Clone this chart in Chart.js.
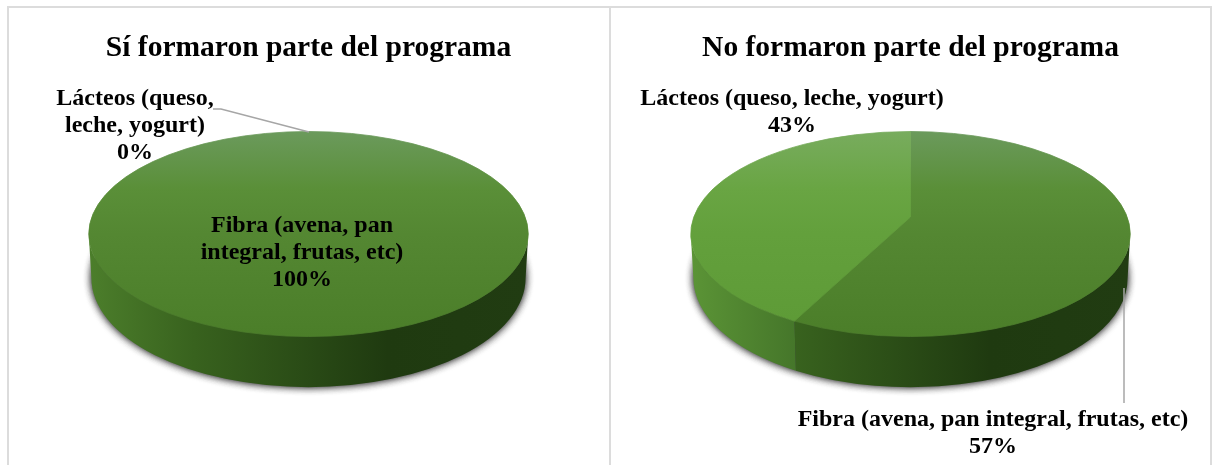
<!DOCTYPE html>
<html lang="es">
<head>
<meta charset="utf-8">
<title>Programa</title>
<script src="https://cdn.jsdelivr.net/npm/chart.js@4"></script>
<style>
html, body { margin: 0; padding: 0; background: #fff; overflow: hidden; }
body { width: 1212px; height: 465px; position: relative; }
.panel { position: absolute; top: 6px; height: 459px; border-top: 2px solid #dcdcdc; border-left: 2px solid #dcdcdc; box-sizing: border-box; }
#p1 { left: 7px; width: 603px; }
#p2 { left: 609px; width: 603px; border-right: 2px solid #dcdcdc; }
canvas { position: absolute; top: 0; }
#chartSi { left: 8px; }
#chartNo { left: 610px; }
</style>
</head>
<body>
<div class="panel" id="p1"></div>
<div class="panel" id="p2"></div>
<canvas id="chartSi" width="601" height="465"></canvas>
<canvas id="chartNo" width="601" height="465"></canvas>
<script>
const categories = ['Fibra (avena, pan integral, frutas, etc)', 'Lácteos (queso, leche, yogurt)'];
const siValues = [100, 0];
const noValues = [57, 43];
const titles = ['Sí formaron parte del programa', 'No formaron parte del programa'];

const topStops = [
  ['#6b9a5c', '#5a8f38', '#548732', '#4b7e29'],
  ['#78ac5e', '#69a543', '#63a03c', '#5d9a36']
];
const sideStops = [
  ['#4c7e2b', '#38621e', '#1f3a10', '#213c12'],
  ['#5b9436', '#45762a', '#38621e', '#213c12']
];

const SERIF = '"Liberation Serif", serif';
const TILT = 0.4665;
const PERSPECTIVE = -0.24;
const APEX = -0.166;

// bends the slice angles the way the 3D view does
function projectAngle(t) {
  const u = Math.cos(t), v = Math.sin(t);
  const d = 1 + PERSPECTIVE * v;
  return Math.atan2((v + PERSPECTIVE) / d, u * Math.sqrt(1 - PERSPECTIVE * PERSPECTIVE) / d);
}

function angleRange(arc) {
  const sweep = arc.endAngle - arc.startAngle;
  let a = projectAngle(arc.startAngle);
  let b = projectAngle(arc.endAngle);
  if (sweep >= Math.PI * 2 - 0.0001) return [-Math.PI / 2, Math.PI * 1.5];
  if (a > 0 && arc.startAngle < 0) a -= Math.PI * 2;
  while (b < a) b += Math.PI * 2;
  return [a, b];
}

const pie3d = {
  id: 'pie3d',
  beforeDatasetDraw(chart, args) {
    const ctx = chart.ctx;
    const arcs = args.meta.data;
    const cx = arcs[0].x, cy = arcs[0].y, rx = arcs[0].outerRadius, ry = rx * TILT;
    const botY = cy + 44, botRx = rx * 0.988, botRy = ry * 1.065;
    const apexY = cy + APEX * ry;

    // soft shadow behind the wall
    ctx.save();
    ctx.shadowColor = 'rgba(30,30,30,0.9)';
    ctx.shadowBlur = 8;
    ctx.fillStyle = '#333';
    for (let n = 0; n < 2; n++) {
      ctx.beginPath();
      ctx.ellipse(cx, botY, botRx - 1, botRy - 1, 0, 0, Math.PI * 2);
      ctx.fill();
    }
    ctx.restore();

    arcs.forEach((arc, i) => {
      if (arc.endAngle - arc.startAngle <= 0) return;
      const [a, b] = angleRange(arc);

      // wall
      const lo = Math.max(a, 0), hi = Math.min(b, Math.PI);
      if (hi > lo) {
        const g = ctx.createLinearGradient(cx - rx, 0, cx + rx, 0);
        const s = sideStops[i];
        g.addColorStop(0, s[0]);
        g.addColorStop(0.24, s[1]);
        g.addColorStop(0.68, s[2]);
        g.addColorStop(1, s[3]);
        ctx.fillStyle = g;
        ctx.beginPath();
        ctx.ellipse(cx, cy, rx, ry, 0, lo, hi);
        ctx.ellipse(cx, botY, botRx, botRy, 0, hi, lo, true);
        ctx.closePath();
        ctx.fill();
      }
    });

    arcs.forEach((arc, i) => {
      if (arc.endAngle - arc.startAngle <= 0) return;
      const [a, b] = angleRange(arc);

      // top face
      const g2 = ctx.createLinearGradient(0, cy - ry, 0, cy + ry);
      const t = topStops[i];
      g2.addColorStop(0, t[0]);
      g2.addColorStop(0.28, t[1]);
      g2.addColorStop(0.5, t[2]);
      g2.addColorStop(1, t[3]);
      ctx.fillStyle = g2;
      ctx.strokeStyle = g2;
      ctx.lineWidth = 0.8;
      ctx.beginPath();
      if (b - a < Math.PI * 2 - 0.0001) ctx.moveTo(cx, apexY);
      ctx.ellipse(cx, cy, rx, ry, 0, a, b);
      ctx.closePath();
      ctx.fill();
      ctx.stroke();
    });
    return false;
  },
  afterDatasetsDraw(chart, args, opts) {
    const ctx = chart.ctx;
    ctx.save();
    ctx.strokeStyle = '#a6a6a6';
    ctx.lineWidth = 1.5;
    (opts.leaders || []).forEach(pts => {
      ctx.beginPath();
      pts.forEach((p, i) => i ? ctx.lineTo(p[0], p[1]) : ctx.moveTo(p[0], p[1]));
      ctx.stroke();
    });
    ctx.fillStyle = '#000';
    ctx.font = 'bold ' + opts.labelSize + 'px ' + SERIF;
    ctx.textAlign = 'center';
    ctx.textBaseline = 'alphabetic';
    (opts.labels || []).forEach(l => {
      l.lines.forEach((txt, i) => ctx.fillText(txt, l.x, l.y + i * 27));
    });
    ctx.restore();
  }
};

function makePie(id, title, values, labels, leaders) {
  return new Chart(document.getElementById(id).getContext('2d'), {
    type: 'pie',
    data: {
      labels: categories,
      datasets: [{ data: values, radius: 219.75, borderWidth: 0 }]
    },
    options: {
      responsive: false,
      animation: false,
      layout: { padding: { bottom: 73.4 } },
      plugins: {
        legend: { display: false },
        tooltip: { enabled: false },
        title: {
          display: true,
          text: title,
          color: '#000',
          font: { family: SERIF, size: 29.5, weight: 'bold' },
          padding: { top: 31, bottom: 10 }
        },
        pie3d: { labels: labels, leaders: leaders, labelSize: 24 }
      }
    },
    plugins: [pie3d]
  });
}

makePie('chartSi', titles[0], siValues, [
  { x: 127, y: 105, lines: ['Lácteos (queso,', 'leche, yogurt)', siValues[1] + '%'] },
  { x: 294, y: 232, lines: ['Fibra (avena, pan', 'integral, frutas, etc)', siValues[0] + '%'] }
], [[[205, 109], [213, 109], [301, 132]]]);

makePie('chartNo', titles[1], noValues, [
  { x: 182, y: 105, lines: [categories[1], noValues[1] + '%'] },
  { x: 383, y: 426, lines: [categories[0], noValues[0] + '%'] }
], [[[514, 288], [514, 403]]]);
</script>
</body>
</html>
